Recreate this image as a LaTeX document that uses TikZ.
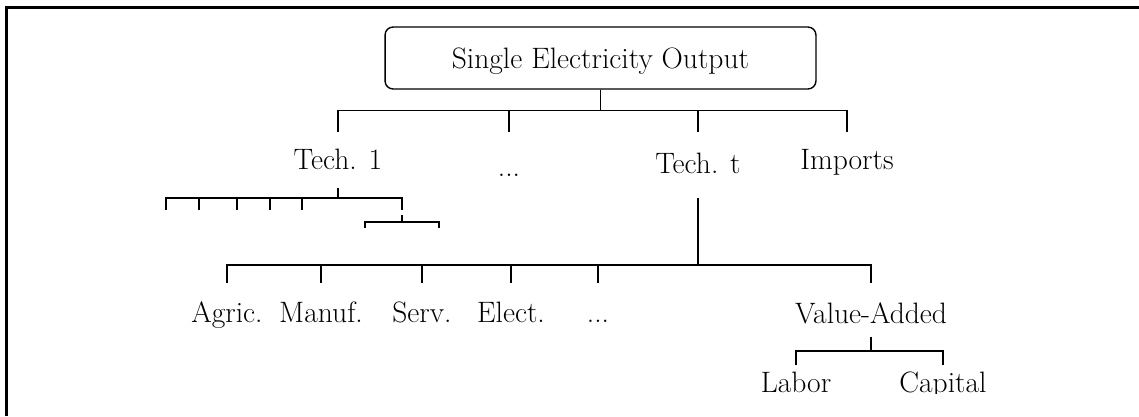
\documentclass[tikz,border=0pt]{standalone}
\usepackage{fontspec}
\tikzset{
  lbl/.style={inner sep=0pt, outer sep=0pt, anchor=north, text height=21.6pt, text depth=10.2pt},
  wire/.style={line width=0.8pt}
}
\begin{document}
\begin{tikzpicture}[x=0.02cm, y=-0.02cm, every node/.style={font=\fontsize{16.8}{20}\selectfont}]
			\useasboundingbox (0,0) rectangle (1139,416);
			\draw[line width=1.3pt] (6.5,416) |- (1139,7.5);
			\node[draw, line width=0.8pt, rounded corners=4.6pt, minimum width=8.62cm, minimum height=1.24cm, text depth=0pt] (out) at (600.5,58) {Single Electricity Output};
			\node[lbl] (tech1) at (338,132) {Tech. 1};
			\node[lbl, text height=25.6pt] (dots1) at (509,132) {...};
			\node[lbl, text height=23.9pt, text depth=13.7pt] (techt) at (698,132) {Tech. t};
			\node[lbl, text height=21.1pt] (imports) at (847,132) {Imports};
			\node[lbl, text height=22.2pt] (agric) at (227,283) {Agric.};
			\node[lbl, text height=22.2pt] (manuf) at (321,283) {Manuf.};
			\node[lbl, text height=22.2pt] (serv) at (422,283) {Serv.};
			\node[lbl, text height=22.2pt] (elect) at (511,283) {Elect.};
			\node[lbl, text height=22.2pt] (dots2) at (598,283) {...};
			\node[lbl, text height=23.3pt, text depth=7.4pt] (va) at (871,283) {Value-Added};
			\begin{scope}
				\clip (0,0) rectangle (1139,393);
				\node[lbl, text height=15.4pt] (labor) at (796,365) {Labor};
				\node[lbl, text height=15.4pt] (capital) at (943,365) {Capital};
			\end{scope}
			\foreach \n in {tech1,dots1,techt,imports}
				\draw[wire] (out.south) -- ++(0,21) -| (\n.north);
			\foreach \n in {agric,manuf,serv,elect,dots2,va}
				\draw[wire] (techt.south) -- ++(0,67) -| (\n.north);
			\foreach \n in {labor,capital}
				\draw[wire] (va.south) -- ++(0,14) -| (\n.north);
			\draw[wire] (tech1.south) -- ++(0,10);
			\draw[wire] (166,210) |- (402,198) -- (402,210);
			\foreach \x in {199,237,270,302}
				\draw[wire] (\x,198) -- (\x,210);
			\draw[wire] (402,215) -- (402,222);
			\draw[wire] (365,228) |- (439,222) -- (439,228);
\end{tikzpicture}
\end{document}
